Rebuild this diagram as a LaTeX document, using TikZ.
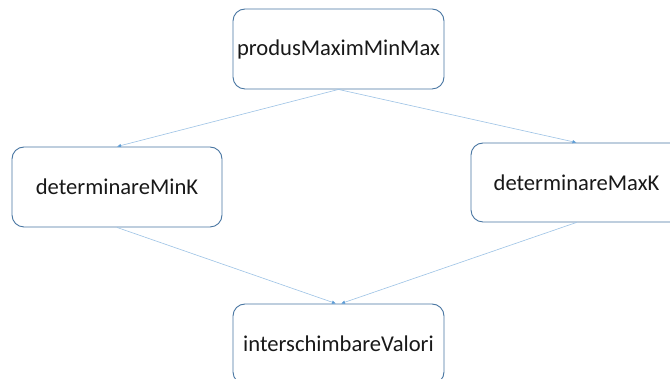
\documentclass[tikz,border=0pt]{standalone}
\usepackage{fontspec}
\setmainfont{Carlito}
\usetikzlibrary{arrows.meta,calc}
\definecolor{boxblue}{RGB}{72,118,162}
\definecolor{arrblue}{RGB}{157,195,230}
\definecolor{tipblue}{RGB}{91,155,213}
\begin{document}
\begin{tikzpicture}[x=1pt,y=1pt,
  box/.style={draw=boxblue, line width=0.9pt, rounded corners=12pt, fill=white,
    minimum width=211pt, minimum height=80pt, inner sep=0pt, text=black!90,
    font=\fontsize{22.6}{26}\selectfont},
  conn/.style={draw=arrblue, line width=0.6pt, -{Latex[length=4pt,width=3.5pt,fill=tipblue,color=tipblue]}}]
\useasboundingbox (0,0) rectangle (670,379);
\fill[white] (0,0) rectangle (670,379);
\clip (0,0) rectangle (670,379);
\node[box] (top) at (338.5,330) {produsMaximMinMax};
\node[box, minimum width=210pt] (minK) at (117,192) {determinareMinK};
\node[box, minimum height=79pt] (maxK) at (576.5,196.5) {determinareMaxK};
\node[box] (inter) at (338.5,35) {interschimbareValori};
\coordinate (inL) at ($(inter.north)+(-2.5,0)$);
\coordinate (inR) at ($(inter.north)+(2.5,0)$);
\draw[conn] (top.south) -- (minK.north);
\draw[conn] (top.south) -- (maxK.north);
\draw[conn] (minK.south) -- (inL);
\draw[conn] (maxK.south) -- (inR);
\end{tikzpicture}
\end{document}
